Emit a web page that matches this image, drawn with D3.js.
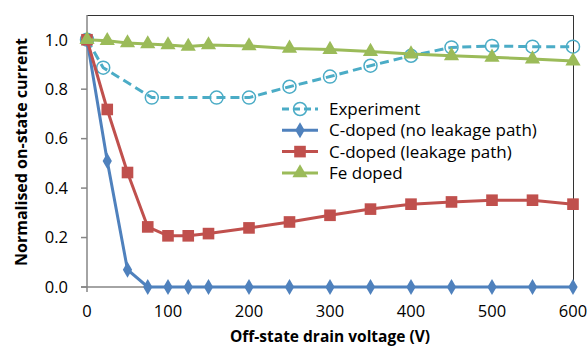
<!DOCTYPE html>
<html>
<head>
  <script src="https://d3js.org/d3.v7.min.js"></script>
  <style>
    body { margin: 0; background: white; }
    .tick-label { font-family: "Open Sans", sans-serif; font-size: 16.5px; fill: #000; }
    .axis-title { font-family: "Open Sans", sans-serif; font-size: 15px; font-weight: bold; fill: #000; }
    .legend text { font-family: "Open Sans", sans-serif; font-size: 17px; fill: #000; }
  </style>
</head>
<body>
<div id="chart"></div>
<script>
  // Data
  const xTicks = [0, 100, 200, 300, 400, 500, 600];
  const yTicks = [0.0, 0.2, 0.4, 0.6, 0.8, 1.0];

  const expX = [0, 20, 80, 160, 200, 250, 300, 350, 400, 450, 500, 550, 600];
  const expY = [1.0, 0.887, 0.766, 0.766, 0.766, 0.81, 0.851, 0.895, 0.935, 0.969, 0.975, 0.972, 0.972];

  const simX = [0, 25, 50, 75, 100, 125, 150, 200, 250, 300, 350, 400, 450, 500, 550, 600];
  const noLeakY = [1.0, 0.51, 0.07, 0, 0, 0, 0, 0, 0, 0, 0, 0, 0, 0, 0, 0];
  const leakY = [1.0, 0.718, 0.463, 0.243, 0.207, 0.207, 0.216, 0.239, 0.263, 0.29, 0.315, 0.335, 0.344, 0.351, 0.351, 0.335];
  const feY = [1.0, 0.996, 0.987, 0.983, 0.979, 0.973, 0.979, 0.975, 0.965, 0.96, 0.952, 0.942, 0.935, 0.929, 0.922, 0.914];

  const series = [
    { name: "Experiment", x: expX, y: expY, color: "#4BACC6", marker: "circle", dash: "9,5" },
    { name: "C-doped (no leakage path)", x: simX, y: noLeakY, color: "#4F81BD", marker: "diamond", dash: null },
    { name: "C-doped (leakage path)", x: simX, y: leakY, color: "#C0504D", marker: "square", dash: null },
    { name: "Fe doped", x: simX, y: feY, color: "#9BBB59", marker: "triangle", dash: null }
  ];

  const W = 588, H = 347;
  const margin = { top: 15, right: 15, bottom: 60, left: 87 };
  const width = W - margin.left - margin.right,
        height = H - margin.top - margin.bottom;

  const x = d3.scaleLinear().domain([0, 600]).range([0, width]);
  const y = d3.scaleLinear().domain([0, 1.1]).range([height, 0]);

  const svg = d3.select("#chart").append("svg")
    .attr("width", W).attr("height", H)
    .append("g")
    .attr("transform", `translate(${margin.left},${margin.top})`);

  // plot frame (top and right)
  svg.append("path")
    .attr("d", `M0,0.5H${width + 0.5}V${height}`)
    .attr("fill", "none").attr("stroke", "#333").attr("stroke-width", 1);

  // y axis
  svg.append("line").attr("x1", 0).attr("x2", 0).attr("y1", 0).attr("y2", height + 5)
    .attr("stroke", "#868686").attr("stroke-width", 1.5);
  svg.selectAll(".ytick").data(yTicks).join("line")
    .attr("x1", -6).attr("x2", 0)
    .attr("y1", d => y(d)).attr("y2", d => y(d))
    .attr("stroke", "#868686").attr("stroke-width", 1.5);
  svg.selectAll(".ylab").data(yTicks).join("text")
    .attr("class", "tick-label")
    .attr("x", -19).attr("y", d => y(d)).attr("dy", "0.35em")
    .attr("text-anchor", "end")
    .text(d => d.toFixed(1));

  // x axis
  svg.append("line").attr("x1", -6).attr("x2", width).attr("y1", height).attr("y2", height)
    .attr("stroke", "#868686").attr("stroke-width", 1.5);
  svg.selectAll(".xlab").data(xTicks).join("text")
    .attr("class", "tick-label")
    .attr("x", d => x(d)).attr("y", height + 30)
    .attr("text-anchor", "middle")
    .text(d => d);

  // axis titles
  svg.append("text").attr("class", "axis-title")
    .attr("x", width / 2).attr("y", height + 55)
    .style("font-size", "15.5px")
    .attr("text-anchor", "middle")
    .text("Off-state drain voltage (V)");
  svg.append("text").attr("class", "axis-title")
    .attr("transform", `translate(${-60},${height / 2 + 1}) rotate(-90)`)
    .style("font-size", "16px")
    .attr("text-anchor", "middle")
    .text("Normalised on-state current");

  const symbols = {
    circle: null,
    diamond: d3.symbol().type(d3.symbolDiamond).size(75),
    square: d3.symbol().type(d3.symbolSquare).size(135),
    triangle: d3.symbol().type(d3.symbolTriangle).size(100)
  };

  function drawMarker(g, s, cx, cy) {
    if (s.marker === "circle") {
      g.append("circle").attr("cx", cx).attr("cy", cy).attr("r", 6.5)
        .attr("fill", "none").attr("stroke", s.color).attr("stroke-width", 1.5);
    } else {
      g.append("path").attr("d", symbols[s.marker]())
        .attr("transform", `translate(${cx},${cy})`)
        .attr("fill", s.color);
    }
  }

  const line = d3.line().x(d => x(d[0])).y(d => y(d[1]));

  // draw order: experiment behind, then blue, red, green
  series.forEach(s => {
    const pts = s.x.map((v, i) => [v, s.y[i]]);
    const g = svg.append("g");
    g.append("path").datum(pts)
      .attr("d", line)
      .attr("fill", "none")
      .attr("stroke", s.color)
      .attr("stroke-width", 3)
      .attr("stroke-dasharray", s.dash);
    pts.forEach(p => drawMarker(g, s, x(p[0]), y(p[1])));
  });

  // legend
  const legend = svg.append("g").attr("class", "legend")
    .attr("transform", `translate(${282 - margin.left},${109 - margin.top})`);
  series.forEach((s, i) => {
    const g = legend.append("g").attr("transform", `translate(0,${i * 21.3})`);
    g.append("line").attr("x1", 0).attr("x2", 36).attr("y1", 0).attr("y2", 0)
      .attr("stroke", s.color).attr("stroke-width", 3)
      .attr("stroke-dasharray", s.dash ? "7,4" : null);
    drawMarker(g, s, 18, 0);
    g.append("text").attr("x", 47).attr("y", 0).attr("dy", "0.35em").text(s.name);
  });
</script>
</body>
</html>
